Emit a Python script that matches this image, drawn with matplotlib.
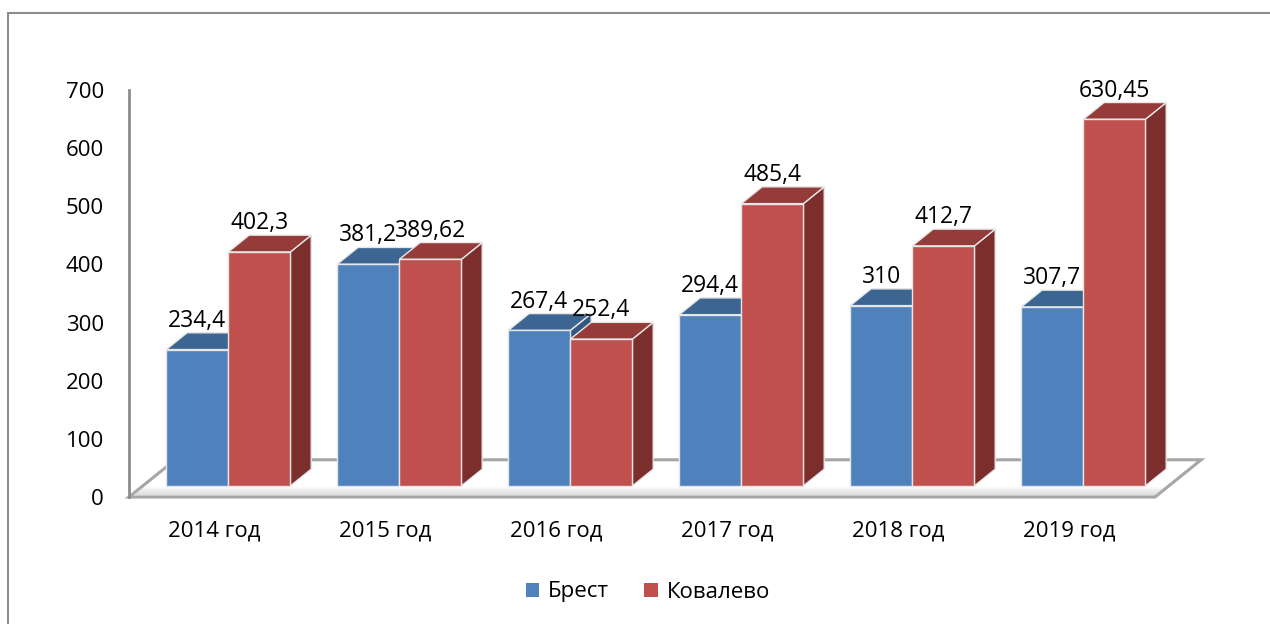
import matplotlib
matplotlib.use("Agg")
from matplotlib import pyplot as plt
from matplotlib.patches import Polygon, Patch, Rectangle

plt.rcParams['font.family'] = ['Open Sans', 'DejaVu Sans']

years = ['2014 год', '2015 год', '2016 год', '2017 год', '2018 год', '2019 год']
brest = [234.4, 381.2, 267.4, 294.4, 310, 307.7]
kovalevo = [402.3, 389.62, 252.4, 485.4, 412.7, 630.45]
brest_labels = ['234,4', '381,2', '267,4', '294,4', '310', '307,7']
kovalevo_labels = ['402,3', '389,62', '252,4', '485,4', '412,7', '630,45']

# fake 3d: full floor depth in data units, bars sit between D0 and D1 of it
DX = 0.27
DY = 64.0
D0, D1 = 0.3, 0.75
W = 0.363

colors = {
    'Брест': ('#4F81BD', '#3C6592', '#34587F'),
    'Ковалево': ('#C0504D', '#953B39', '#7B2E2C'),
}

fig = plt.figure(figsize=(12.7, 6.24), dpi=100)
fig.patches.append(Rectangle((8 / 1270, -0.1), 1.2, 1 - 13 / 624 + 0.1,
                             transform=fig.transFigure, fill=False,
                             edgecolor='#8c8c8c', linewidth=1.5))
ax = fig.add_axes([129 / 1270, 127 / 624, (1155 - 129) / 1270, (534 - 127) / 624])
ax.set_xlim(-0.5, len(years) - 0.5)
ax.set_ylim(0, 700)
ax.patch.set_visible(False)

n = len(years)
# floor
floor = Polygon([(-0.5, 0), (n - 0.5, 0), (n - 0.5 + DX, DY), (-0.5 + DX, DY)],
                closed=True, facecolor='white', edgecolor='#a6a6a6',
                linewidth=2.2, zorder=1, clip_on=False)
ax.add_patch(floor)
# soft shading near front edge of floor
for k in range(6):
    f = (k + 1) / 7
    ax.add_patch(Polygon([(-0.5 + DX * 0.05, DY * 0.05),
                          (n - 0.5 + DX * 0.05, DY * 0.05),
                          (n - 0.5 + DX * f * 0.3, DY * f * 0.3),
                          (-0.5 + DX * f * 0.3, DY * f * 0.3)],
                         closed=True, facecolor='#bfbfbf', alpha=0.12,
                         edgecolor='none', zorder=1.5, clip_on=False))


def draw_bar(x0, v, cols, z):
    front, top, side = cols
    bx0 = x0 + D0 * DX
    bx1 = bx0 + W
    by0 = D0 * DY
    dx = (D1 - D0) * DX
    dy = (D1 - D0) * DY
    ec = '#e6e6e6'
    ax.add_patch(Polygon([(bx1, by0), (bx1 + dx, by0 + dy), (bx1 + dx, by0 + v + dy), (bx1, by0 + v)],
                         facecolor=side, edgecolor=ec, linewidth=1, zorder=z, clip_on=False))
    ax.add_patch(Polygon([(bx0, by0 + v), (bx1, by0 + v), (bx1 + dx, by0 + v + dy), (bx0 + dx, by0 + v + dy)],
                         facecolor=top, edgecolor=ec, linewidth=1, zorder=z, clip_on=False))
    ax.add_patch(Polygon([(bx0, by0), (bx1, by0), (bx1, by0 + v), (bx0, by0 + v)],
                         facecolor=front, edgecolor=ec, linewidth=1, zorder=z, clip_on=False))
    return (bx0 + bx1) / 2, by0 + v + dy


for i in range(n):
    cx, ty = draw_bar(i - W, brest[i], colors['Брест'], 3 + i)
    ax.text(cx, ty, brest_labels[i], ha='center', va='bottom', fontsize=16.5,
            zorder=20)
    cx, ty = draw_bar(i, kovalevo[i], colors['Ковалево'], 3.5 + i)
    ax.text(cx, ty, kovalevo_labels[i], ha='center', va='bottom', fontsize=16.5,
            zorder=20)

ax.set_xticks(range(n))
ax.set_xticklabels(years, fontsize=16)
ax.set_yticks(range(0, 701, 100))
ax.tick_params(axis='y', length=0, pad=18, labelsize=16)
ax.tick_params(axis='x', length=0, pad=17)
for s in ['top', 'right', 'bottom']:
    ax.spines[s].set_visible(False)
ax.spines['left'].set_color('#8c8c8c')
ax.spines['left'].set_linewidth(2)

handles = [Patch(facecolor=colors['Брест'][0], label='Брест'),
           Patch(facecolor=colors['Ковалево'][0], label='Ковалево')]
fig.legend(handles=handles, loc='center', bbox_to_anchor=(0.51, 32 / 624),
           ncol=2, frameon=False, fontsize=16, handlelength=0.6,
           handleheight=0.6, handletextpad=0.4, columnspacing=1.6)

fig.savefig('out.png', dpi=100)
